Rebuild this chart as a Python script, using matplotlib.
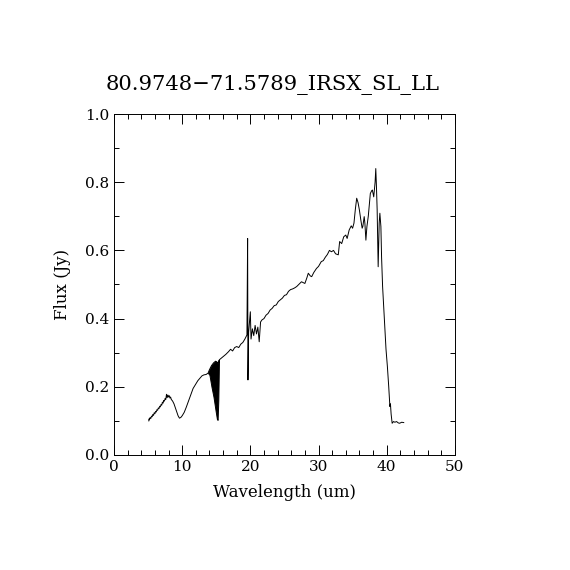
import numpy as np
import matplotlib
matplotlib.use('Agg')
import matplotlib.pyplot as plt
from matplotlib.ticker import MultipleLocator

title = "80.9748\u221271.5789_IRSX_SL_LL"

# spectrum (wavelength in um, flux in Jy)
wave = [5.1, 5.15, 5.2, 5.3, 5.4, 5.5, 5.6, 5.7, 5.8, 5.9, 6.0, 6.1, 6.2, 6.3, 6.4, 6.5,
        6.6, 6.7, 6.8, 6.9, 7.0, 7.1, 7.2, 7.3, 7.4, 7.5, 7.6, 7.7, 7.8, 7.9,
        8.0, 8.1, 8.2, 8.3, 8.4, 8.6, 8.8, 9.0, 9.2, 9.4, 9.6, 9.8, 10.0, 10.3, 10.6,
        11.0, 11.3, 11.6, 12.0, 12.3, 12.6, 12.9, 13.2, 13.5, 13.8, 14.0, 14.3, 14.6,
        14.9, 15.1, 15.25, 15.35, 15.5, 15.8, 16.1, 16.4, 16.8, 17.1, 17.4, 17.7, 18.0,
        18.3, 18.6, 18.9, 19.2, 19.5, 19.6, 19.65, 19.75, 20.0, 20.1, 20.3, 20.5, 20.7,
        20.9, 21.1, 21.3, 21.5, 21.7, 22.0, 22.3, 22.6, 22.9, 23.2, 23.5, 23.8, 24.1,
        24.4, 24.7, 25.0, 25.3, 25.6, 25.9, 26.2, 26.5, 26.8, 27.1, 27.5, 27.8, 28.0,
        28.3, 28.5, 28.8, 29.0, 29.3, 29.7, 30.0, 30.4, 30.7, 31.0, 31.3, 31.6, 31.9,
        32.2, 32.5, 32.9, 33.1, 33.4, 33.7, 34.0, 34.2, 34.5, 34.8, 35.0, 35.2, 35.4,
        35.6, 35.8, 36.0, 36.2, 36.4, 36.5, 36.7, 36.8, 36.95, 37.1, 37.3, 37.5, 37.6,
        37.8, 37.9, 38.1, 38.3, 38.4, 38.5, 38.6, 38.75, 38.9, 39.0, 39.15, 39.25, 39.4,
        39.6, 39.75, 39.9, 40.1, 40.3, 40.47, 40.55, 40.65, 40.8, 41.0, 41.2, 41.45,
        41.7, 41.9, 42.2, 42.5]
flux = [0.100, 0.106, 0.103, 0.110, 0.107, 0.114, 0.112, 0.119, 0.116, 0.124, 0.121,
        0.128, 0.126, 0.133, 0.131, 0.138, 0.136, 0.143, 0.141, 0.148, 0.146, 0.155,
        0.152, 0.160, 0.158, 0.166, 0.163, 0.178, 0.168, 0.176, 0.170, 0.174, 0.167,
        0.170, 0.163, 0.158, 0.150, 0.138, 0.125, 0.115, 0.108, 0.110, 0.115, 0.125,
        0.140, 0.162, 0.178, 0.195, 0.208, 0.218, 0.225, 0.232, 0.235, 0.236, 0.240,
        0.250, 0.262, 0.270, 0.275, 0.272, 0.270, 0.276, 0.280, 0.285, 0.290, 0.295,
        0.303, 0.310, 0.305, 0.315, 0.318, 0.315, 0.325, 0.330, 0.340, 0.352, 0.635,
        0.220, 0.360, 0.420, 0.340, 0.370, 0.350, 0.380, 0.355, 0.375, 0.332, 0.390,
        0.396, 0.400, 0.410, 0.415, 0.425, 0.430, 0.438, 0.440, 0.450, 0.455, 0.460,
        0.468, 0.470, 0.480, 0.485, 0.487, 0.490, 0.494, 0.500, 0.508, 0.505, 0.503,
        0.520, 0.533, 0.525, 0.523, 0.535, 0.547, 0.553, 0.567, 0.570, 0.580, 0.588,
        0.600, 0.596, 0.600, 0.590, 0.587, 0.626, 0.620, 0.640, 0.645, 0.635, 0.660,
        0.672, 0.665, 0.680, 0.720, 0.753, 0.740, 0.718, 0.690, 0.665, 0.670, 0.699,
        0.680, 0.630, 0.670, 0.700, 0.745, 0.767, 0.775, 0.777, 0.757, 0.800, 0.840,
        0.786, 0.720, 0.552, 0.680, 0.709, 0.670, 0.580, 0.494, 0.420, 0.360, 0.310,
        0.260, 0.200, 0.142, 0.150, 0.120, 0.093, 0.098, 0.096, 0.098, 0.094, 0.093,
        0.096, 0.095]

# noisy band near 15 um drawn as a solid black region
band_wave = [13.8, 14.0, 14.3, 14.6, 14.9, 15.1, 15.2, 15.3, 15.4]
band_hi = [0.240, 0.250, 0.262, 0.270, 0.275, 0.272, 0.270, 0.274, 0.280]
band_lo = [0.240, 0.235, 0.200, 0.170, 0.130, 0.105, 0.103, 0.160, 0.280]

plt.rcParams['font.family'] = ['DejaVu Serif']

fig = plt.figure(figsize=(5.7, 5.7), dpi=100)
ax = fig.add_axes([0.2, 0.2018, 0.598, 0.5982])

ax.plot(wave, flux, color='black', lw=0.7)
ax.fill_between(band_wave, band_lo, band_hi, color='black', lw=0.7)

ax.set_xlim(0, 50)
ax.set_ylim(0, 1.0)
ax.xaxis.set_major_locator(MultipleLocator(10))
ax.xaxis.set_minor_locator(MultipleLocator(2))
ax.yaxis.set_major_locator(MultipleLocator(0.2))
ax.yaxis.set_minor_locator(MultipleLocator(0.1))
ax.yaxis.set_major_formatter(matplotlib.ticker.FormatStrFormatter('%.1f'))
ax.tick_params(which='both', direction='in', top=True, right=True, labelsize=11, width=0.7)
ax.tick_params(which='major', length=7)
ax.tick_params(which='minor', length=3.5)
for s in ax.spines.values():
    s.set_linewidth(0.7)

ax.set_xlabel("Wavelength (um)", fontsize=12, labelpad=7)
ax.set_ylabel("Flux (Jy)", fontsize=12, labelpad=10)
ax.set_title(title, fontsize=15.2, pad=17, x=0.465)

plt.savefig('out.png', dpi=100)
